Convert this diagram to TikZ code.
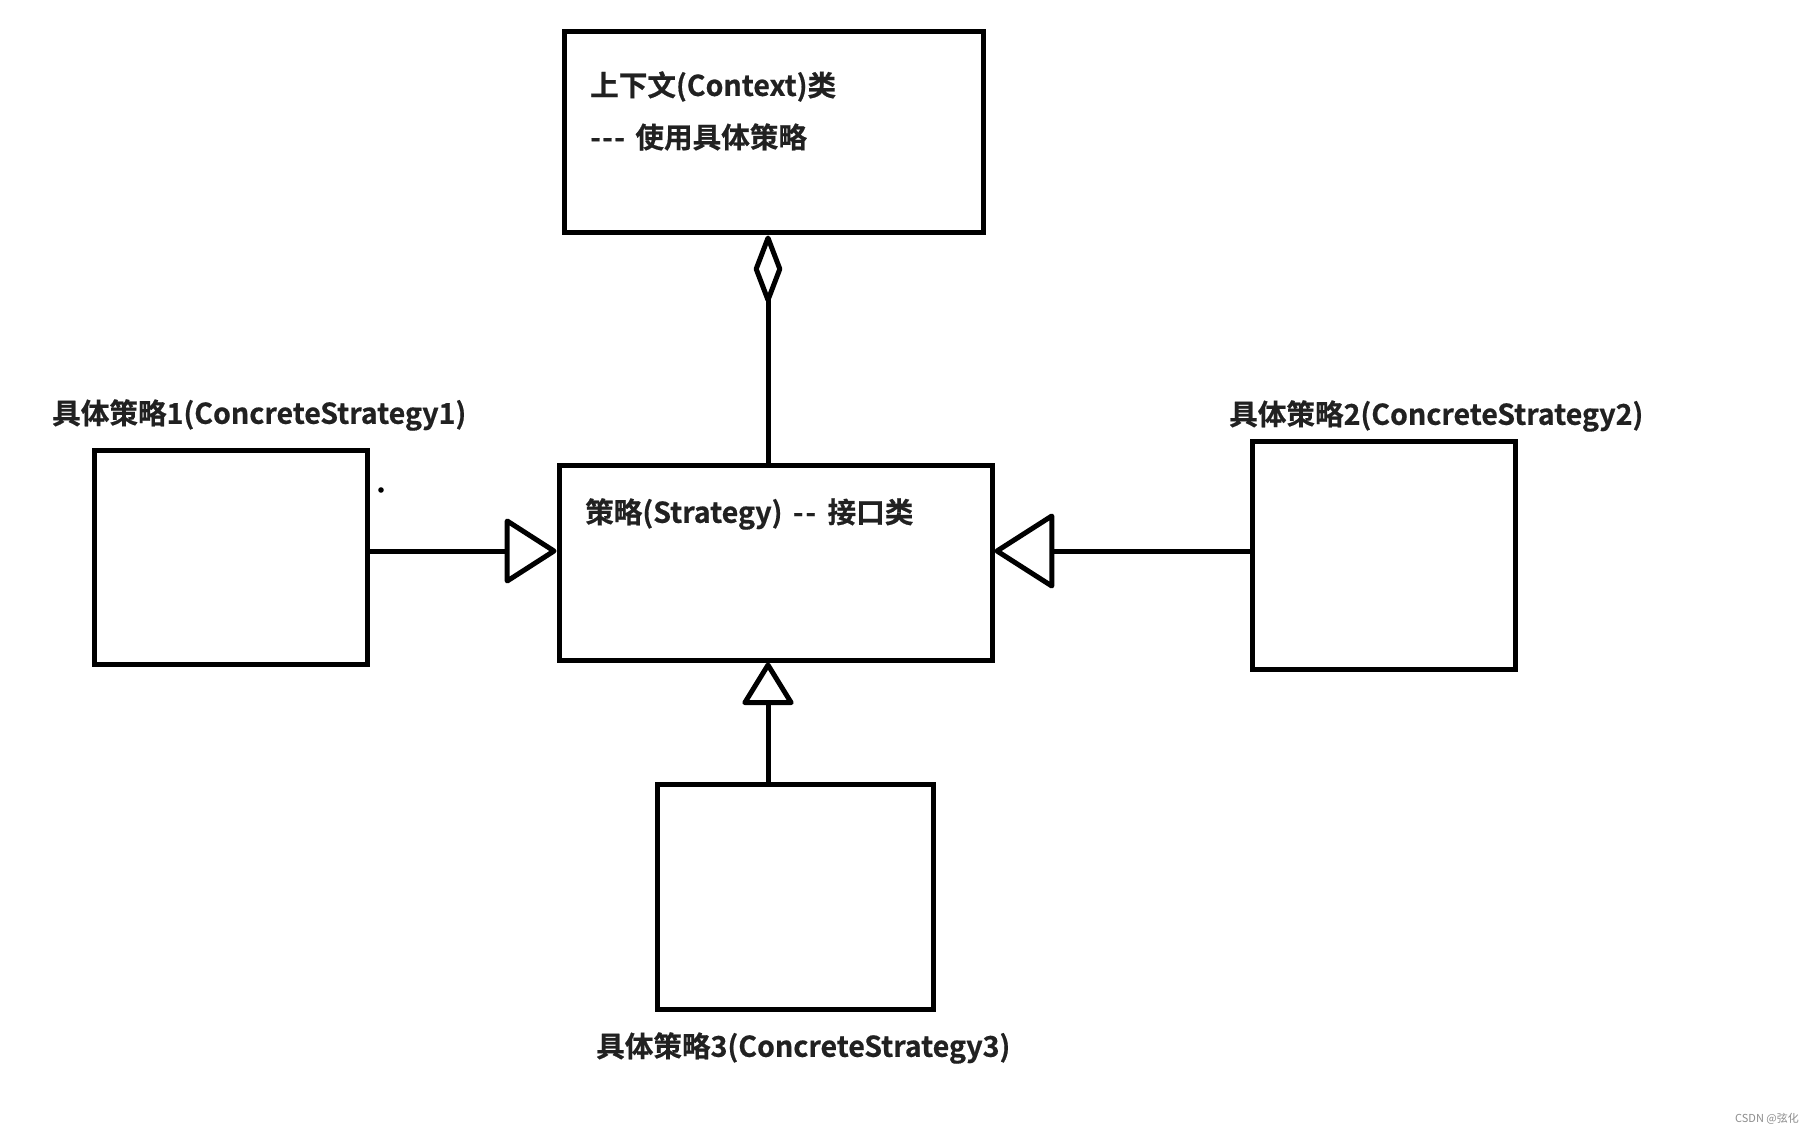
\documentclass[tikz,border=0pt]{standalone}
\usepackage{fontspec}
\setmainfont{Noto Sans CJK SC}[BoldFont={Noto Sans CJK SC Bold}, BoldFeatures={FakeBold=0.6}]
\usetikzlibrary{arrows.meta}
\begin{document}
\begin{tikzpicture}[x=1pt,y=-1pt,
  box/.style={draw=black, line width=5pt, inner sep=0pt, fill=white},
  conn/.style={draw=black, line width=5pt},
  lbl/.style={font=\bfseries\fontsize{28.6}{32}\selectfont, text=black!87, inner sep=0pt, anchor=west},
  wmark/.style={font=\fontsize{11}{12}\selectfont, text=black!45, inner sep=0pt}]
\useasboundingbox (0,0) rectangle (1815,1134);
% boxes
\node[box, minimum width=419pt, minimum height=201pt] (context) at (773.5,132.5) {};
\node[box, minimum width=433pt, minimum height=195pt] (strategy) at (775.5,562.5) {};
\node[box, minimum width=273pt, minimum height=214pt] (cs1) at (230.5,557) {};
\node[box, minimum width=263pt, minimum height=228pt] (cs2) at (1383.5,555) {};
\node[box, minimum width=276pt, minimum height=225pt] (cs3) at (795,896.5) {};
% helper coordinates
\coordinate (xc) at (768,0);
\coordinate (ya) at (0,551);
\coordinate (yb) at (0,551);
% connectors
\draw[conn, {Diamond[open,round,length=76pt,width=29pt]}-] (context.south -| xc) -- (strategy.north -| xc);
\draw[conn, -{Triangle[open,round,length=54pt,width=68pt]}] (cs1.east |- ya) -- (strategy.west |- ya);
\draw[conn, -{Triangle[open,round,length=62pt,width=78pt]}] (cs2.west |- yb) -- (strategy.east |- yb);
\draw[conn, -{Triangle[open,round,length=45pt,width=54pt]}] (cs3.north -| xc) -- (strategy.south -| xc);
% stray dot
\fill[black] (381,490) circle (2.8pt);
% texts
\node[lbl] (ctx1) at (590,86.5) {上下文(Context)类};
\node[lbl] (ctx2) at (590,137) {-\kern1.5pt-\kern1.5pt-\hspace{4pt} 使用具体策略};
\node[lbl] (strl) at (585,514) {策略(Strategy)\hspace{4pt} -\kern2pt-\hspace{5pt} 接口类};
\node[lbl] (cs1l) at (52,415) {具体策略1(ConcreteStrategy1)};
\node[lbl] (cs2l) at (1229,416) {具体策略2(ConcreteStrategy2)};
\node[lbl] (cs3l) at (596,1048) {具体策略3(ConcreteStrategy3)};
\node[wmark] (wm) at (1767,1119) {CSDN @弦化};
\end{tikzpicture}
\end{document}
